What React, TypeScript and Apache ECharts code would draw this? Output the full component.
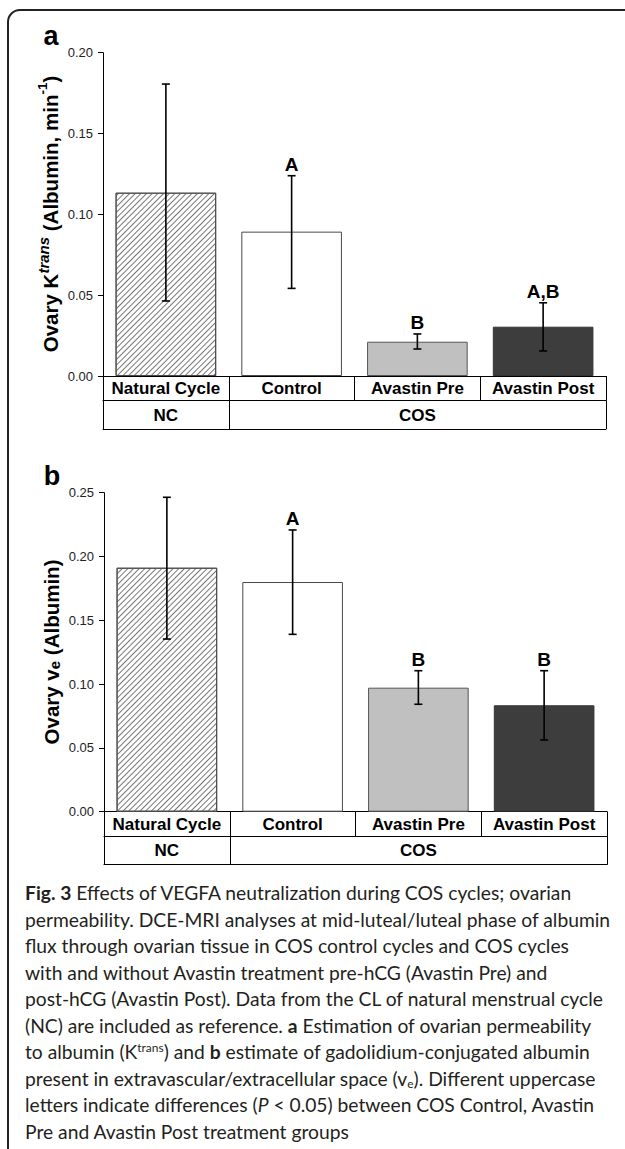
import React, { useEffect, useLayoutEffect, useRef, useState } from "react";
import * as echarts from "echarts";

// ---------- data ----------
const categories = ["Natural Cycle", "Control", "Avastin Pre", "Avastin Post"];
const groupLabels = ["NC", "COS"];
const groupTickValues = [0, 1, 4];
const groupLabelValues = [0.5, 2.5];

const ktransMean = [0.1134, 0.0893, 0.0212, 0.0305];
const ktransLow = [0.0464, 0.0542, 0.0167, 0.0155];
const ktransHigh = [0.1806, 0.1239, 0.026, 0.0453];
const ktransLetters = ["", "A", "B", "A,B"];
const ktransMax = 0.2;

const veMean = [0.1912, 0.18, 0.0972, 0.0834];
const veLow = [0.1353, 0.139, 0.0842, 0.0562];
const veHigh = [0.2464, 0.2208, 0.1105, 0.1105];
const veLetters = ["", "A", "B", "B"];
const veMax = 0.25;

const yInterval = 0.05;

const captionLines: React.ReactNode[] = [
  <><b>Fig. 3</b> Effects of VEGFA neutralization during COS cycles; ovarian</>,
  <>permeability. DCE-MRI analyses at mid-luteal/luteal phase of albumin</>,
  <>flux through ovarian tissue in COS control cycles and COS cycles</>,
  <>with and without Avastin treatment pre-hCG (Avastin Pre) and</>,
  <>post-hCG (Avastin Post). Data from the CL of natural menstrual cycle</>,
  <>(NC) are included as reference. <b>a</b> Estimation of ovarian permeability</>,
  <>to albumin (K<sup style={{ fontSize: "0.62em", verticalAlign: "0.55em", lineHeight: 0 }}>trans</sup>) and <b>b</b> estimate of gadolidium-conjugated albumin</>,
  <>present in extravascular/extracellular space (v<sub style={{ fontSize: "0.62em", verticalAlign: "-0.2em", lineHeight: 0 }}>e</sub>). Different uppercase</>,
  <>letters indicate differences (<i>P</i> &lt; 0.05) between COS Control, Avastin</>,
  <>Pre and Avastin Post treatment groups</>,
];
const captionMeasureLine = "permeability. DCE-MRI analyses at mid-luteal/luteal phase of albumin";

// ---------- styles ----------
const FONT = "'Liberation Sans', Arial, Helvetica, sans-serif";
const CAP_FONT = "Lato, 'Open Sans', sans-serif";
const barFills = ["#ffffff", "#ffffff", "#c0c0c0", "#3d3d3d"];
const barBorders = ["#4a4a4a", "#4a4a4a", "#555555", "#333333"];
const ROW1 = 24.5;
const ROW2 = 28.5;
const black = { color: "#000", width: 1 };

const hatch = {
  symbol: "rect",
  symbolSize: 1,
  color: "#777777",
  dashArrayX: [1, 0],
  dashArrayY: [1, 2.2],
  rotation: -Math.PI / 4,
};

const grids = [
  { left: 103, top: 52.7, width: 503, height: 323.3 },
  { left: 104, top: 492.7, width: 503, height: 319 },
];

function xAxesFor(g: number) {
  return [
    {
      type: "category",
      gridIndex: g,
      data: categories,
      position: "bottom",
      offset: 0,
      axisLine: { show: true, onZero: false, lineStyle: black },
      axisTick: { show: true, length: ROW1, lineStyle: black },
      axisLabel: {
        interval: 0,
        fontSize: 17,
        fontWeight: "bold",
        color: "#000",
        fontFamily: FONT,
        margin: 4,
        lineHeight: 17,
      },
      splitLine: { show: false },
    },
    {
      type: "value",
      gridIndex: g,
      min: 0,
      max: 4,
      position: "bottom",
      offset: ROW1,
      axisLine: { show: true, onZero: false, lineStyle: black },
      axisTick: { show: true, length: ROW2, customValues: groupTickValues, lineStyle: black },
      axisLabel: {
        show: true,
        customValues: groupLabelValues,
        formatter: (v: number) => groupLabels[groupLabelValues.indexOf(v)] ?? "",
        fontSize: 17,
        fontWeight: "bold",
        color: "#000",
        fontFamily: FONT,
        margin: 6,
        lineHeight: 17,
      },
      splitLine: { show: false },
    },
    {
      type: "value",
      gridIndex: g,
      min: 0,
      max: 4,
      position: "bottom",
      offset: ROW1 + ROW2,
      axisLine: { show: true, onZero: false, lineStyle: black },
      axisTick: { show: false },
      axisLabel: { show: false },
      splitLine: { show: false },
    },
  ];
}

function yAxisFor(g: number, max: number) {
  return {
    type: "value",
    gridIndex: g,
    min: 0,
    max,
    interval: yInterval,
    axisLine: { show: true, lineStyle: black },
    axisTick: { show: true, length: 5, lineStyle: black },
    axisLabel: {
      fontSize: 13,
      color: "#222",
      fontFamily: FONT,
      margin: 10,
      formatter: (v: number) => v.toFixed(2),
    },
    splitLine: { show: false },
  };
}

function seriesFor(g: number, mean: number[], low: number[], high: number[], letters: string[]) {
  return [
    {
      type: "bar",
      xAxisIndex: g * 3,
      yAxisIndex: g,
      barWidth: "80%",
      data: mean.map((v, i) => ({
        value: v,
        itemStyle: {
          color: barFills[i],
          borderColor: barBorders[i],
          borderWidth: 1,
          ...(i === 0 ? { decal: hatch } : {}),
        },
      })),
    },
    {
      type: "custom",
      xAxisIndex: g * 3,
      yAxisIndex: g,
      clip: false,
      z: 5,
      data: mean.map((_, i) => [i, low[i], high[i]]),
      renderItem: (params: any, api: any) => {
        const x = api.value(0);
        const lo = api.coord([x, api.value(1)]);
        const hi = api.coord([x, api.value(2)]);
        const cap = 4;
        const style = { stroke: "#000", lineWidth: 1.6 };
        const children: any[] = [
          { type: "line", shape: { x1: lo[0], y1: lo[1], x2: hi[0], y2: hi[1] }, style },
          { type: "line", shape: { x1: lo[0] - cap, y1: lo[1], x2: lo[0] + cap, y2: lo[1] }, style },
          { type: "line", shape: { x1: hi[0] - cap, y1: hi[1], x2: hi[0] + cap, y2: hi[1] }, style },
        ];
        const t = letters[params.dataIndex];
        if (t) {
          children.push({
            type: "text",
            x: hi[0],
            y: hi[1] - 11,
            style: {
              text: t,
              fill: "#000",
              font: `bold 19px ${FONT}`,
              align: "center",
              verticalAlign: "middle",
            },
          });
        }
        return { type: "group", children };
      },
    },
  ];
}

const titleRich = {
  m: { fill: "#000", fontSize: 20.5, fontWeight: "bold", fontFamily: FONT, lineHeight: 25, verticalAlign: "bottom" },
  sup: { fill: "#000", fontSize: 13.5, fontWeight: "bold", fontFamily: FONT, lineHeight: 17, verticalAlign: "top" },
  supi: { fill: "#000", fontSize: 15, fontWeight: "bold", fontStyle: "italic", fontFamily: FONT, lineHeight: 19, verticalAlign: "top" },
  sub: { fill: "#000", fontSize: 15, fontWeight: "bold", fontFamily: FONT, lineHeight: 16, verticalAlign: "bottom" },
};

function buildOption(): any {
  return {
    animation: false,
    backgroundColor: "transparent",
    textStyle: { fontFamily: FONT },
    grid: grids,
    xAxis: [...xAxesFor(0), ...xAxesFor(1)],
    yAxis: [yAxisFor(0, ktransMax), yAxisFor(1, veMax)],
    series: [
      ...seriesFor(0, ktransMean, ktransLow, ktransHigh, ktransLetters),
      ...seriesFor(1, veMean, veLow, veHigh, veLetters),
    ],
    graphic: [
      {
        type: "text",
        x: 51,
        y: 36,
        style: { text: "a", fill: "#000", font: `bold 27px ${FONT}`, align: "center", verticalAlign: "middle" },
      },
      {
        type: "text",
        x: 52,
        y: 476,
        style: { text: "b", fill: "#000", font: `bold 27px ${FONT}`, align: "center", verticalAlign: "middle" },
      },
      {
        type: "text",
        x: 48,
        y: 214,
        rotation: Math.PI / 2,
        style: {
          text: "{m|Ovary K}{supi|trans}{m| (Albumin, min}{sup|-1}{m|)}",
          rich: titleRich,
          align: "center",
          verticalAlign: "middle",
        },
      },
      {
        type: "text",
        x: 49,
        y: 652,
        rotation: Math.PI / 2,
        style: {
          text: "{m|Ovary v}{sub|e}{m| (Albumin)}",
          rich: titleRich,
          align: "center",
          verticalAlign: "middle",
        },
      },
    ],
  };
}

export default function App() {
  const ref = useRef<HTMLDivElement>(null);
  const [capSize, setCapSize] = useState(18.5);

  useLayoutEffect(() => {
    const c = document.createElement("canvas");
    const ctx = c.getContext("2d");
    if (ctx) {
      ctx.font = `100px ${CAP_FONT}`;
      const w = ctx.measureText(captionMeasureLine).width;
      if (w > 0) setCapSize((586 / w) * 100);
    }
  }, []);

  useEffect(() => {
    if (!ref.current) return;
    const chart = echarts.init(ref.current, null, { renderer: "svg" });
    chart.setOption(buildOption());
    return () => chart.dispose();
  }, []);

  return (
    <div
      style={{
        position: "absolute",
        left: 0,
        top: 0,
        width: 625,
        height: 1149,
        overflow: "hidden",
        background: "#fff",
      }}
    >
      <div
        style={{
          position: "absolute",
          left: 7,
          top: 9,
          width: 660,
          height: 1170,
          border: "2px solid #222",
          borderTopLeftRadius: 13,
          boxSizing: "border-box",
        }}
      />
      <div ref={ref} style={{ position: "absolute", left: 0, top: 0, width: 625, height: 880 }} />
      <div
        style={{
          position: "absolute",
          left: 25,
          top: 880,
          fontFamily: CAP_FONT,
          fontSize: capSize,
          lineHeight: "26.5px",
          color: "#231f20",
          whiteSpace: "nowrap",
        }}
      >
        {captionLines.map((l, i) => (
          <div key={i}>{l}</div>
        ))}
      </div>
    </div>
  );
}
